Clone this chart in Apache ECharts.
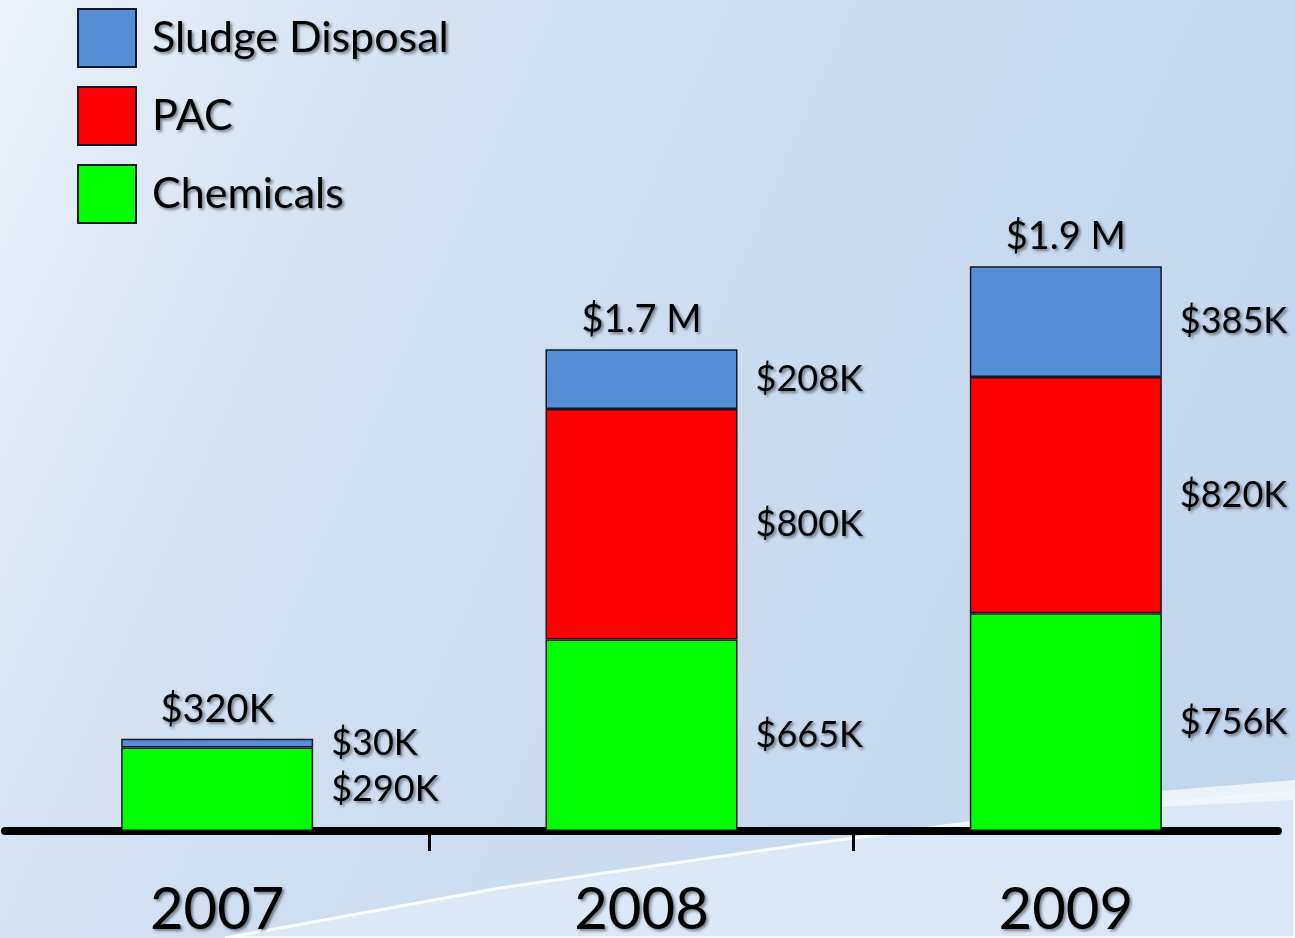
<!DOCTYPE html>
<html><head><meta charset="utf-8">
<script src="https://cdn.jsdelivr.net/npm/echarts@6/dist/echarts.min.js"></script>
<style>html,body{margin:0;padding:0;}#c{width:1295px;height:938px;}</style>
</head><body><div id="c"></div>
<script>
const categories = ['2007', '2008', '2009'];
const chemicals = [290, 665, 756];
const pac = [null, 800, 820];
const sludge = [30, 208, 385];
const totalLabels = ['$320K', '$1.7 M', '$1.9 M'];

const FONT = 'Lato';
const shadowText = {
  color: '#000', fontFamily: FONT,
  textShadowColor: 'rgba(0,0,0,0.45)', textShadowBlur: 3, textShadowOffsetX: 2, textShadowOffsetY: 2
};
const border = { borderColor: '#15172a', borderWidth: 1.5 };
function segLabel() {
  return Object.assign({
    show: true, position: 'right', distance: 18, fontSize: 36,
    formatter: p => (p.value == null || p.value === 0) ? '' : '$' + p.value + 'K'
  }, shadowText);
}

const chart = echarts.init(document.getElementById('c'));
chart.setOption({
  backgroundColor: new echarts.graphic.LinearGradient(0, 0, 1, 0.6, [
    { offset: 0, color: '#eaf1f9' },
    { offset: 0.3, color: '#d3e1f1' },
    { offset: 1, color: '#c2d6ec' }
  ]),
  graphic: [
    {
      type: 'polygon', z: -10, silent: true,
      shape: { points: [[225, 938], [500, 888], [800, 845], [1050, 812], [1295, 792], [1295, 938]] },
      style: { fill: 'rgba(222,233,246,0.9)', stroke: 'rgba(255,255,255,0.9)', lineWidth: 3 }
    },
    {
      type: 'polygon', z: -10, silent: true,
      shape: { points: [[940, 830], [1100, 796], [1295, 780], [1295, 800], [1100, 810]] },
      style: { fill: 'rgba(240,245,251,0.9)' }
    }
  ],
  legend: {
    data: ['Sludge Disposal', 'PAC', 'Chemicals'],
    orient: 'vertical', left: 77, top: 8, padding: 0,
    itemWidth: 58, itemHeight: 58, itemGap: 18, icon: 'rect',
    textStyle: Object.assign({ fontSize: 43, padding: [0, 0, 0, 11] }, shadowText)
  },
  grid: { left: 5, right: 17, top: 255, bottom: 107, outerBoundsMode: 'none', containLabel: false },
  xAxis: [
    {
      type: 'category', data: categories,
      axisLine: { lineStyle: { color: '#000', width: 8 } },
      axisTick: { show: false },
      axisLabel: Object.assign({ fontSize: 58, margin: 50 }, shadowText)
    },
    {
      type: 'category', data: ['', '', '', ''], boundaryGap: false, position: 'bottom',
      axisLine: { show: false },
      axisLabel: { show: false },
      axisTick: { show: true, length: 20, interval: (i) => i === 1 || i === 2, lineStyle: { color: '#000', width: 3 } }
    }
  ],
  yAxis: { type: 'value', min: 0, max: 2000, show: false, splitLine: { show: false } },
  series: [
    { name: 'Chemicals', type: 'bar', stack: 's', barWidth: 192, data: chemicals,
      itemStyle: Object.assign({ color: '#00ff00' }, border), label: segLabel() },
    { name: 'PAC', type: 'bar', stack: 's', barWidth: 192, data: pac,
      itemStyle: Object.assign({ color: '#ff0000' }, border), label: segLabel() },
    { name: 'Sludge Disposal', type: 'bar', stack: 's', barWidth: 192, data: sludge,
      itemStyle: Object.assign({ color: '#558ed5' }, border), label: segLabel() },
    { name: 'Total', type: 'bar', stack: 's', barWidth: 192, data: [0, 0, 0],
      itemStyle: { color: 'rgba(0,0,0,0)', borderWidth: 0 },
      label: Object.assign({ show: true, position: 'top', distance: 10, fontSize: 38,
        formatter: p => totalLabels[p.dataIndex] }, shadowText) }
  ]
});
</script></body></html>
